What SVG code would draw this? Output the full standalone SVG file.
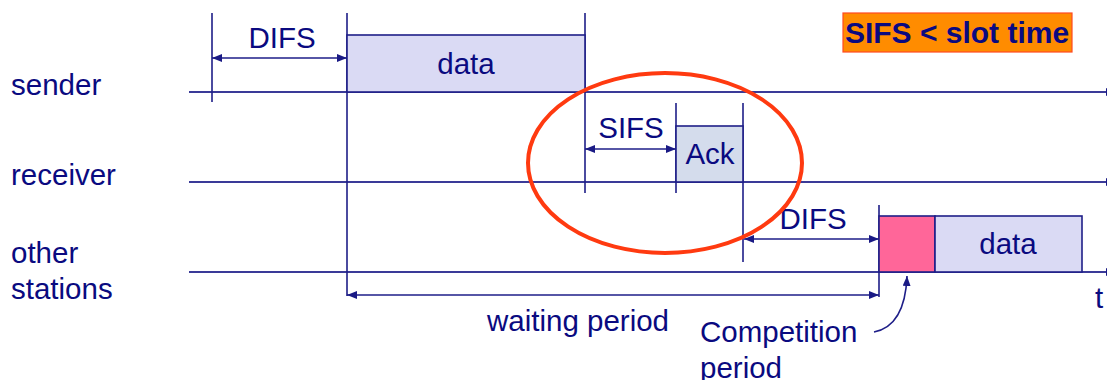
<svg xmlns="http://www.w3.org/2000/svg" width="1107" height="380" viewBox="0 0 1107 380">
  <defs>
    <marker id="ah" viewBox="0 0 10 8" refX="10" refY="4" markerWidth="10" markerHeight="8" markerUnits="userSpaceOnUse" orient="auto-start-reverse">
      <path d="M0,0 L10,4 L0,8 Z" fill="#1a1a85"/>
    </marker>
    <style>
      .ln { stroke: #1e1e88; stroke-width: 1.6; fill: none; }
      .tl { stroke: #3a3a98; stroke-width: 1.8; fill: none; }
      .txt { font-family: "Liberation Sans", Arial, sans-serif; font-size: 29.5px; fill: #0a0a80; }
      .mid { text-anchor: middle; }
      .frame { fill: #dadaf4; stroke: #1e1e88; stroke-width: 1.6; }
    </style>
  </defs>
  <rect width="1107" height="380" fill="#ffffff"/>

  <!-- station labels -->
  <g id="labels">
    <text class="txt" x="11" y="95">sender</text>
    <text class="txt" x="11" y="185">receiver</text>
    <text class="txt" x="11" y="263">other</text>
    <text class="txt" x="11" y="299">stations</text>
    <text class="txt" x="1095" y="308">t</text>
  </g>

  <!-- time axes -->
  <g id="connectors">
    <line class="tl" x1="189" y1="92" x2="1116" y2="92" marker-end="url(#ah)"/>
    <line class="tl" x1="189" y1="182" x2="1116" y2="182" marker-end="url(#ah)"/>
    <line class="tl" x1="189" y1="272" x2="1116" y2="272" marker-end="url(#ah)"/>

    <!-- vertical markers -->
    <line class="ln" x1="212" y1="13" x2="212" y2="102"/>
    <line class="ln" x1="347" y1="13" x2="347" y2="296"/>
    <line class="ln" x1="585" y1="13" x2="585" y2="193"/>
    <line class="ln" x1="676" y1="103" x2="676" y2="193"/>
    <line class="ln" x1="743" y1="103" x2="743" y2="262"/>
    <line class="ln" x1="879" y1="205" x2="879" y2="297"/>

    <!-- interval arrows -->
    <line class="ln" x1="212" y1="58" x2="347" y2="58" marker-start="url(#ah)" marker-end="url(#ah)"/>
    <line class="ln" x1="585" y1="149" x2="676" y2="149" marker-start="url(#ah)" marker-end="url(#ah)"/>
    <line class="ln" x1="744" y1="239" x2="879" y2="239" marker-start="url(#ah)" marker-end="url(#ah)"/>
    <line class="ln" x1="347" y1="295" x2="879" y2="295" marker-start="url(#ah)" marker-end="url(#ah)"/>

    <!-- pointer to contention slot -->
    <path class="ln" d="M874,332 Q905,326 907,276" marker-end="url(#ah)"/>
  </g>

  <!-- interval labels -->
  <g id="interval-labels">
    <text class="txt mid" x="282" y="48">DIFS</text>
    <text class="txt mid" x="631" y="138">SIFS</text>
    <text class="txt mid" x="813" y="229">DIFS</text>
    <text class="txt mid" x="578" y="331">waiting period</text>
    <text class="txt" x="700" y="342">Competition</text>
    <text class="txt" x="700" y="378">period</text>
  </g>

  <g id="sender-data">
    <rect class="frame" x="347" y="35" width="238" height="57"/>
    <text class="txt mid" x="466" y="74">data</text>
  </g>

  <g id="receiver-ack">
    <rect class="frame" x="676" y="126" width="67" height="56" style="fill:#d4dcec"/>
    <text class="txt mid" x="710" y="164">Ack</text>
  </g>

  <g id="contention-slot">
    <rect class="frame" x="879" y="216" width="56" height="56" style="fill:#ff6699"/>
  </g>

  <g id="other-data">
    <rect class="frame" x="935" y="216" width="147" height="56"/>
    <text class="txt mid" x="1008" y="254">data</text>
  </g>

  <!-- highlight ring -->
  <g id="highlight">
    <ellipse cx="665" cy="163" rx="137" ry="90" fill="none" stroke="#ff3a10" stroke-width="4"/>
  </g>

  <g id="note">
    <rect x="843" y="13" width="229" height="39" fill="#ff8c00" stroke="#ff4a20" stroke-width="1.2"/>
    <text class="txt mid" x="957" y="43" style="font-weight:bold;font-size:30px">SIFS &lt; slot time</text>
  </g>
</svg>
